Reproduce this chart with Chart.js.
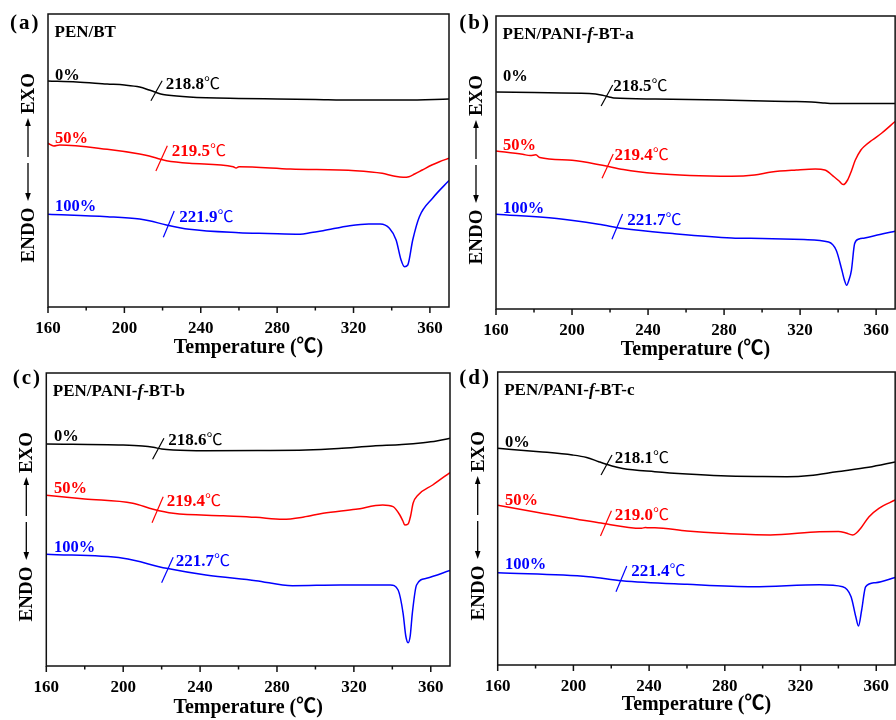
<!DOCTYPE html>
<html>
<head>
<meta charset="utf-8">
<script src="https://cdn.jsdelivr.net/npm/chart.js@4.4.1/dist/chart.umd.min.js"></script>
<style>
  html, body { margin: 0; padding: 0; background: #fff; overflow: hidden; }
  body { width: 896px; height: 720px; position: relative; }
  canvas { position: absolute; left: 0; }
</style>
</head>
<body>
<canvas id="chart-a"></canvas>
<canvas id="chart-b"></canvas>
<canvas id="chart-c"></canvas>
<canvas id="chart-d"></canvas>
<script>
// DSC traces: temperature (°C) and heat flow (a.u., exo up)
const contents = ['0%', '50%', '100%'];

// (a) PEN/BT
const tempA0 = [160, 175, 191, 200, 208, 213, 216, 219, 222, 234, 260, 280, 300, 320, 347, 370];
const flowA0 = [22.6, 22.5, 22.3, 22.2, 22.0, 21.7, 21.5, 21.3, 21.2, 21.0, 20.85, 20.8, 20.75, 20.7, 20.7, 20.8];
const tempA50 = [160, 163, 166, 191, 208, 213, 219, 222, 234, 257, 258.5, 260, 287, 321, 335, 341, 346, 349, 352, 356, 361, 365, 370];
const flowA50 = [16.37, 16.1, 16.2, 15.77, 15.3, 15.1, 14.77, 14.63, 14.37, 14.03, 13.9, 14.03, 13.8, 13.63, 13.37, 13.1, 12.97, 13.03, 13.3, 13.7, 14.2, 14.53, 14.87];
const tempA100 = [160, 191, 208, 213, 222, 234, 260, 275, 292, 298, 304, 318, 328, 334, 338.8, 342.3, 344.9, 346.7, 348.4, 351, 354.5, 361.5, 370];
const flowA100 = [9.27, 9.03, 8.8, 8.63, 8.2, 7.77, 7.43, 7.35, 7.27, 7.45, 7.63, 8.13, 8.3, 8.3, 7.87, 6.7, 4.7, 4.03, 4.2, 6.7, 9.03, 10.9, 12.65];
const tgA = ['218.8', '219.5', '221.9'];

// (b) PEN/PANI-f-BT-a
const tempB0 = [160, 180, 209, 216, 219.6, 222, 244, 284, 314, 326, 333, 337, 345, 370];
const flowB0 = [21.7, 21.65, 21.54, 21.37, 21.2, 21.1, 21.0, 20.87, 20.75, 20.7, 20.6, 20.54, 20.55, 20.54];
const tempB50 = [160, 174, 178, 181, 183, 200, 216, 227, 244, 262, 284, 296, 305, 318, 328, 333, 338, 340.5, 342.7, 345, 347, 349, 352, 354, 358, 363, 370];
const flowB50 = [15.8, 15.47, 15.34, 15.42, 15.14, 14.87, 14.37, 13.94, 13.54, 13.34, 13.27, 13.4, 13.7, 13.9, 14.0, 13.9, 13.2, 12.8, 12.44, 12.9, 13.8, 14.87, 15.9, 16.3, 16.9, 17.6, 18.75];
const tempB100 = [160, 192, 214, 227, 253, 284, 300, 322, 335, 339, 342, 343.3, 344.5, 345.7, 347, 348.7, 351, 354, 362, 370];
const flowB100 = [9.47, 9.04, 8.47, 8.04, 7.54, 7.1, 7.05, 6.94, 6.7, 5.87, 3.87, 2.9, 2.37, 2.9, 3.87, 6.54, 7.0, 7.1, 7.45, 7.77];
const tgB = ['218.5', '219.4', '221.7'];

// (c) PEN/PANI-f-BT-b
const tempC0 = [160, 200, 210, 215.6, 220, 226, 243, 270, 295, 312, 330, 345, 356, 363, 370];
const flowC0 = [22.2, 22.1, 22.0, 21.87, 21.7, 21.6, 21.53, 21.55, 21.6, 21.75, 22.0, 22.15, 22.33, 22.5, 22.77];
const tempC50 = [160, 180, 205, 215.6, 226, 252, 269, 283, 294, 304, 321, 335, 340.4, 343.9, 345.5, 346.5, 348.2, 349.5, 350.8, 353.4, 361, 370];
const flowC50 = [17.07, 16.7, 16.27, 15.67, 15.27, 15.03, 14.87, 14.67, 14.9, 15.27, 15.67, 16.1, 15.93, 15.1, 14.5, 14.1, 14.2, 15.0, 16.27, 17.1, 18.1, 19.35];
const tempC100 = [160, 200, 222.5, 243, 269, 288, 313, 339, 343, 345.6, 347, 348.2, 349.3, 350.4, 352.6, 357.8, 370];
const flowC100 = [11.17, 10.77, 9.77, 9.1, 8.53, 8.03, 8.1, 8.1, 7.6, 5.27, 3.0, 2.33, 3.0, 5.27, 8.1, 8.77, 9.55];
const tgC = ['218.6', '219.4', '221.7'];

// (d) PEN/PANI-f-BT-c
const tempD0 = [160, 182, 199.5, 207, 213.4, 217, 220.4, 226, 243, 260, 278, 300, 313, 325, 339, 356, 370];
const flowD0 = [21.67, 21.33, 21.0, 20.75, 20.33, 20.1, 19.9, 19.65, 19.33, 19.1, 18.93, 18.85, 18.83, 18.95, 19.33, 19.77, 20.3];
const tempD50 = [160, 182, 213.4, 236, 238, 240, 243, 260, 278, 304, 330, 340, 344, 347.5, 349.5, 351.8, 356.2, 361.4, 370];
const flowD50 = [15.97, 15.23, 14.23, 13.67, 13.75, 13.72, 13.73, 13.4, 13.17, 13.0, 13.33, 13.35, 13.2, 13.0, 13.2, 13.67, 14.83, 15.67, 16.5];
const tempD100 = [160, 208, 225.6, 260, 295, 330, 342.3, 346.7, 349.2, 350.6, 352.3, 354.4, 359.6, 370];
const flowD100 = [9.23, 8.83, 8.43, 8.07, 7.83, 8.03, 7.83, 6.83, 4.83, 3.9, 5.5, 7.83, 8.23, 8.75];
const tgD = ['218.1', '219.0', '221.4'];

// Tg marks: [T1, flow1, T2, flow2] for the short slashes across each trace
const slashA = [[213.9, 20.63, 219.8, 22.63], [216.5, 13.6, 222.5, 16.13], [220.4, 6.97, 226.1, 9.6]];
const slashB = [[215.3, 20.3, 221.4, 22.4], [215.8, 13.07, 221.7, 15.5], [221.0, 6.97, 226.6, 9.5]];
const slashC = [[215.3, 20.67, 221.2, 22.77], [215.0, 14.33, 220.8, 16.93], [220.0, 8.33, 226.0, 10.87]];
const slashD = [[214.6, 19.0, 220.4, 21.0], [214.3, 12.9, 220.1, 15.43], [222.5, 7.33, 228.2, 9.9]];

const COLORS = ['#000000', '#ff0000', '#0000ff'];
const SERIF = '"Liberation Serif", "Times New Roman", "Noto Sans CJK SC", serif';
const CJK = '"Noto Sans CJK SC", sans-serif';

const panels = [
  {
    id: 'chart-a', letter: '(a)', name: [['PEN/BT', false]],
    canvasTop: 0, canvasH: 366, area: { l: 48, t: 14, r: 449, b: 307 }, titlePad: 5.9, letterAt: [-38, 15.3],
    series: [[tempA0, flowA0], [tempA50, flowA50], [tempA100, flowA100]], slashes: slashA, tg: tgA,
    pctAt: [[163.7, 22.75], [163.7, 16.45], [163.7, 9.65]],
    tgAt: [[221.6, 21.8], [224.8, 15.15], [228.7, 8.5]],
  },
  {
    id: 'chart-b', letter: '(b)', name: [['PEN/PANI-', false], ['f', true], ['-BT-a', false]],
    canvasTop: 0, canvasH: 366, area: { l: 496, t: 16, r: 897.4, b: 309 }, titlePad: 4.2, letterAt: [-36.7, 13.3],
    series: [[tempB0, flowB0], [tempB50, flowB50], [tempB100, flowB100]], slashes: slashB, tg: tgB,
    pctAt: [[163.7, 22.8], [163.7, 15.9], [163.7, 9.6]],
    tgAt: [[221.7, 21.8], [222.3, 14.9], [229.1, 8.4]],
  },
  {
    id: 'chart-c', letter: '(c)', name: [['PEN/PANI-', false], ['f', true], ['-BT-b', false]],
    canvasTop: 360, canvasH: 360, area: { l: 46.3, t: 373, r: 450, b: 666 }, titlePad: 0, letterAt: [-33.6, 11.3],
    series: [[tempC0, flowC0], [tempC50, flowC50], [tempC100, flowC100]], slashes: slashC, tg: tgC,
    pctAt: [[164, 22.5], [164, 17.3], [164, 11.4]],
    tgAt: [[223.4, 22.1], [222.6, 16.0], [227.3, 10.0]],
  },
  {
    id: 'chart-d', letter: '(d)', name: [['PEN/PANI-', false], ['f', true], ['-BT-c', false]],
    canvasTop: 360, canvasH: 360, area: { l: 497.7, t: 372, r: 899.8, b: 665 }, titlePad: 3.2, letterAt: [-38.4, 12.3],
    series: [[tempD0, flowD0], [tempD50, flowD50], [tempD100, flowD100]], slashes: slashD, tg: tgD,
    pctAt: [[163.8, 21.8], [163.8, 16.0], [163.8, 9.6]],
    tgAt: [[221.8, 20.2], [221.8, 14.5], [230.5, 8.9]],
  },
];

const CANVAS_W = 900;

function toPoints(temps, flows) {
  return temps.map((t, i) => ({ x: t, y: flows[i] }));
}

function arrow(ctx, x, from, to) {
  const dir = Math.sign(to - from);
  ctx.beginPath();
  ctx.moveTo(x, from);
  ctx.lineTo(x, to - dir * 6);
  ctx.stroke();
  ctx.beginPath();
  ctx.moveTo(x, to);
  ctx.lineTo(x - 2.8, to - dir * 8);
  ctx.lineTo(x + 2.8, to - dir * 8);
  ctx.closePath();
  ctx.fill();
}

function decorPlugin(panel) {
  return {
    id: 'decor',
    afterDraw(chart) {
      const { ctx, chartArea: a, scales: { x, y } } = chart;
      ctx.save();

      // frame + outward ticks
      ctx.strokeStyle = '#111';
      ctx.lineWidth = 1.5;
      ctx.strokeRect(a.left, a.top, a.right - a.left, a.bottom - a.top);
      x.ticks.forEach((t) => {
        if (t.value % 20 !== 0) return;
        const px = x.getPixelForValue(t.value);
        const len = t.value % 40 === 0 ? 6 : 3.5;
        ctx.beginPath();
        ctx.moveTo(px, a.bottom);
        ctx.lineTo(px, a.bottom + len);
        ctx.stroke();
      });

      // panel letter and sample name
      ctx.fillStyle = '#000';
      ctx.textBaseline = 'alphabetic';
      ctx.textAlign = 'left';
      ctx.font = `bold 21px ${SERIF}`;
      ctx.letterSpacing = '2px';
      ctx.fillText(panel.letter, a.left + panel.letterAt[0], a.top + panel.letterAt[1]);
      ctx.letterSpacing = '0px';
      let nx = a.left + 6.5;
      panel.name.forEach(([part, italic]) => {
        ctx.font = `${italic ? 'italic ' : ''}bold 17px ${SERIF}`;
        ctx.fillText(part, nx, a.top + 22.5);
        nx += ctx.measureText(part).width;
      });

      // EXO / ENDO with arrows
      const ax = a.left - 20;
      ctx.lineWidth = 1.3;
      ctx.strokeStyle = '#000';
      arrow(ctx, ax, a.top + 143, a.top + 104);
      arrow(ctx, ax, a.top + 149, a.top + 187);
      ctx.font = `bold 19px ${SERIF}`;
      ctx.textAlign = 'center';
      [['EXO', 79.5], ['ENDO', 221]].forEach(([txt, dy]) => {
        ctx.save();
        ctx.translate(a.left - 14, a.top + dy);
        ctx.rotate(-Math.PI / 2);
        ctx.fillText(txt, 0, 0);
        ctx.restore();
      });
      ctx.textAlign = 'left';

      // content labels and Tg values
      contents.forEach((label, i) => {
        ctx.fillStyle = COLORS[i];
        ctx.font = `bold 16.5px ${SERIF}`;
        ctx.fillText(label, x.getPixelForValue(panel.pctAt[i][0]), y.getPixelForValue(panel.pctAt[i][1]));
        const tx = x.getPixelForValue(panel.tgAt[i][0]);
        const ty = y.getPixelForValue(panel.tgAt[i][1]);
        ctx.font = `bold 17px ${SERIF}`;
        ctx.fillText(panel.tg[i], tx, ty);
        const w = ctx.measureText(panel.tg[i]).width;
        ctx.font = `16px ${CJK}`;
        ctx.fillText('℃', tx + w, ty);
      });
      ctx.restore();
    },
  };
}

panels.forEach((panel) => {
  const canvas = document.getElementById(panel.id);
  canvas.width = CANVAS_W;
  canvas.height = panel.canvasH;
  canvas.style.top = panel.canvasTop + 'px';
  canvas.style.width = CANVAS_W + 'px';
  canvas.style.height = panel.canvasH + 'px';

  const top = panel.area.t - panel.canvasTop;
  const bottom = panel.area.b - panel.canvasTop;

  const datasets = panel.series.map(([temps, flows], i) => ({
    data: toPoints(temps, flows),
    borderColor: COLORS[i],
    borderWidth: 1.5,
    pointRadius: 0,
    cubicInterpolationMode: 'monotone',
  }));
  panel.slashes.forEach((s, i) => {
    datasets.push({
      data: [{ x: s[0], y: s[1] }, { x: s[2], y: s[3] }],
      borderColor: COLORS[i],
      borderWidth: 1.2,
      pointRadius: 0,
    });
  });

  new Chart(canvas, {
    type: 'line',
    data: { datasets },
    options: {
      responsive: false,
      animation: false,
      events: [],
      layout: { padding: { left: panel.area.l, top: top, right: CANVAS_W - panel.area.r, bottom: 0 } },
      plugins: { legend: { display: false }, tooltip: { enabled: false } },
      scales: {
        x: {
          type: 'linear',
          min: 160,
          max: 370,
          afterFit: (s) => { s.height = panel.canvasH - bottom; },
          grid: { display: false, drawTicks: false },
          border: { display: false },
          ticks: {
            stepSize: 20,
            includeBounds: false,
            autoSkip: false,
            maxRotation: 0,
            padding: 11,
            color: '#000',
            font: { family: SERIF, size: 17, weight: 'bold' },
            callback: (v) => (v % 40 === 0 ? v : ''),
          },
          title: {
            display: true,
            text: 'Temperature (℃)',
            color: '#000',
            font: { family: SERIF, size: 20, weight: 'bold' },
            padding: { top: 0, bottom: panel.titlePad },
          },
        },
        y: { type: 'linear', display: false, min: 0, max: 29.3 },
      },
    },
    plugins: [decorPlugin(panel)],
  });
});
</script>
</body>
</html>
